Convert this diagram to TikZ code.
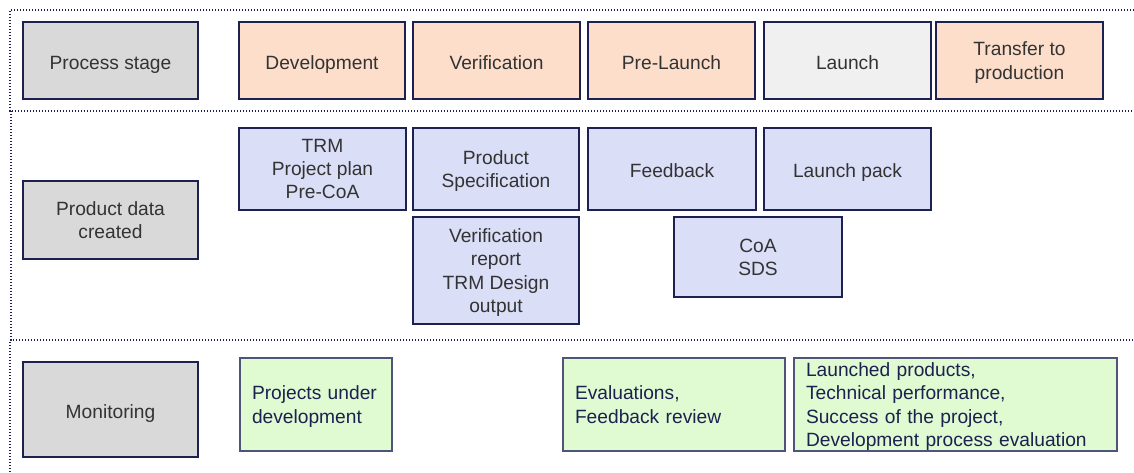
\documentclass[tikz,border=0pt]{standalone}
\usepackage{fontspec}
\setmainfont{Liberation Sans}
\definecolor{navy}{HTML}{1C2150}
\definecolor{txtgray}{HTML}{333333}
\definecolor{stagegray}{HTML}{D9D9D9}
\definecolor{peach}{HTML}{FCDECB}
\definecolor{lightgray}{HTML}{F0F0F0}
\definecolor{paleblue}{HTML}{DADEF7}
\definecolor{palegreen}{HTML}{E0FAD2}
\definecolor{greenedge}{HTML}{4E5578}
\tikzset{
  box/.style={draw=navy, line width=1.8pt, text=txtgray, align=center, inner sep=0pt,
              font=\fontsize{19.2}{23.2}\selectfont,
              execute at begin node={\rule{0pt}{22pt}},
              execute at end node={\rule[-5pt]{0pt}{5pt}}},
  multiline/.style={text depth=-1pt},
  rowlabel/.style={box, fill=stagegray, minimum width=175pt},
  stagebox/.style={box, fill=peach, minimum width=167pt, minimum height=77pt},
  databox/.style={box, fill=paleblue, minimum width=167pt},
  monbox/.style={draw=greenedge, line width=1.2pt, fill=palegreen, text=navy, align=left,
                 inner xsep=12pt, inner ysep=0pt, font=\fontsize{19.2}{23.2}\selectfont,
                 execute at begin node={\rule{0pt}{18pt}},
                 execute at end node={\rule[-4pt]{0pt}{4pt}}},
  lane/.style={draw=navy, line width=1.3pt, dash pattern=on 1.4pt off 1.6pt}
}
\begin{document}
\begin{tikzpicture}[x=1pt, y=-1pt]
\useasboundingbox (0,0) rectangle (1134,472);
\fill[white] (0,0) rectangle (1134,472);

% swim-lane frames, open on the right
\draw[lane] (1134,10) -- (10,10) -- (10,111) -- (1134,111);
\draw[lane] (11,111) -- (11,340) -- (1134,340);
\draw[lane] (10,342) -- (10,472);

% process stages
\node[rowlabel, minimum height=77pt] (ps) at (110.5,60.5) {Process stage};
\node[stagebox, minimum width=166pt] (dev) at (322,60.5) {Development};
\node[stagebox] (ver) at (496.5,60.5) {Verification};
\node[stagebox] (pre) at (671.5,60.5) {Pre-Launch};
\node[stagebox, fill=lightgray] (lau) at (847.5,60.5) {Launch};
\node[stagebox, multiline] (tra) at (1019.5,60.5) {Transfer to\\production};

% product data
\node[rowlabel, multiline, minimum height=78pt] (pdc) at (110.5,220) {Product data\\created};
\node[databox, multiline, minimum height=82pt] (trm) at (322.5,169) {TRM\\Project plan\\Pre-CoA};
\node[databox, multiline, minimum width=166pt, minimum height=82pt] (spec) at (496,169) {Product\\Specification};
\node[databox, minimum width=168pt, minimum height=82pt] (fb) at (672,169) {Feedback};
\node[databox, minimum height=82pt] (lp) at (847.5,169) {Launch pack};
\node[databox, multiline, minimum width=166pt, minimum height=107pt] (vr) at (496,270.5) {Verification\\report\\TRM Design\\output};
\node[databox, multiline, minimum width=168pt, minimum height=80pt] (coa) at (758,257) {CoA\\SDS};

% monitoring
\node[rowlabel, minimum height=95pt] (mon) at (110.5,409.5) {Monitoring};
\node[monbox, text width=128pt, minimum height=93pt] (pud) at (316,404.5) {Projects under\\development};
\node[monbox, text width=198pt, minimum height=93pt] (eva) at (674,404.5) {Evaluations,\\Feedback review};
\node[monbox, text width=299pt, minimum height=93pt] (lpr) at (955.5,404.5) {Launched products,\\Technical performance,\\Success of the project,\\Development process evaluation};
\end{tikzpicture}
\end{document}
